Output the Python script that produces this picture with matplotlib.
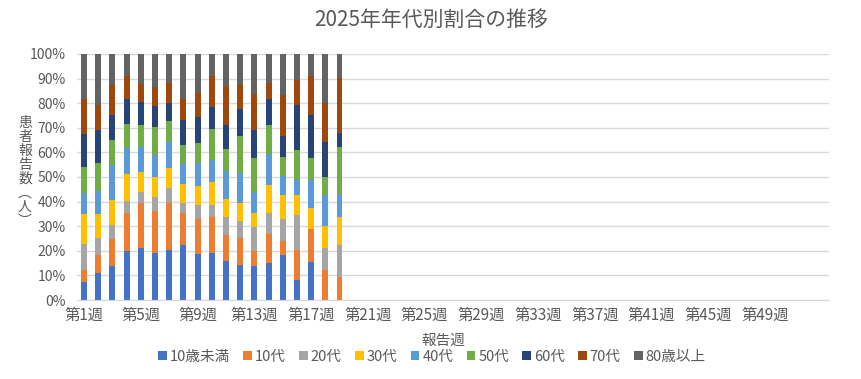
import matplotlib
matplotlib.use("Agg")
import matplotlib.pyplot as plt
import numpy as np

plt.rcParams['font.family'] = ['Noto Sans CJK JP', 'DejaVu Sans']

# weeks in the year (categories) and weeks with data
weeks = ["第%d週" % i for i in range(1, 54)]
groups = ["10歳未満", "10代", "20代", "30代", "40代", "50代", "60代", "70代", "80歳以上"]
colors = ["#4472C4", "#ED7D31", "#A5A5A5", "#FFC000", "#5B9BD5",
          "#70AD47", "#264478", "#9E480E", "#636363"]

# cumulative share (%) at top of each group, weeks 1-19 (80歳以上 fills to 100)
cum = [
    [7.3, 12.2, 22.8, 35.0, 43.4, 54.1, 67.5, 81.6],
    [11.0, 18.3, 25.2, 35.0, 44.3, 55.7, 69.2, 79.3],
    [13.8, 24.8, 30.5, 40.7, 54.7, 65.0, 75.2, 87.4],
    [19.9, 35.4, 40.2, 51.2, 61.9, 71.5, 81.7, 91.2],
    [21.1, 39.4, 43.9, 52.0, 62.2, 71.1, 80.5, 87.9],
    [19.1, 36.2, 41.9, 50.0, 58.9, 70.3, 79.0, 86.7],
    [20.3, 39.4, 45.5, 53.7, 64.4, 72.8, 80.1, 88.2],
    [22.4, 35.4, 39.4, 47.2, 55.4, 63.0, 73.3, 81.8],
    [18.7, 32.9, 38.6, 46.5, 55.7, 63.8, 74.4, 84.1],
    [19.2, 33.7, 38.6, 48.1, 57.0, 69.5, 78.5, 91.2],
    [15.9, 26.4, 33.7, 41.1, 52.4, 61.4, 71.1, 86.9],
    [14.2, 25.3, 32.1, 39.4, 51.6, 66.7, 77.6, 87.4],
    [13.8, 19.9, 29.7, 35.4, 44.0, 57.9, 69.2, 83.9],
    [15.0, 27.0, 35.4, 46.7, 59.5, 71.1, 81.7, 88.2],
    [18.3, 24.0, 32.9, 42.7, 50.5, 58.1, 66.7, 83.3],
    [8.1, 20.3, 34.6, 42.7, 48.8, 61.0, 79.3, 89.4],
    [15.4, 28.9, 28.9, 37.4, 48.8, 57.7, 75.2, 91.1],
    [0.0, 12.2, 21.1, 30.1, 42.7, 50.0, 64.2, 80.1],
    [0.0, 9.5, 22.4, 33.7, 43.1, 62.2, 67.9, 90.2],
]
cum = np.array([row + [100.0] for row in cum])
shares = np.diff(np.hstack([np.zeros((len(cum), 1)), cum]), axis=1) / 100

fig = plt.figure(figsize=(8.62, 3.79), dpi=100)
ax = fig.add_axes([77 / 862, 1 - 300 / 379, 752 / 862, 246 / 379])

x = np.arange(len(weeks))
xd = x[:len(shares)]
bottom = np.zeros(len(shares))
for j, g in enumerate(groups):
    ax.bar(xd, shares[:, j], 0.42, bottom=bottom, color=colors[j], label=g, zorder=2)
    bottom += shares[:, j]

ax.set_xlim(-0.5, len(weeks) - 0.5)
ax.set_ylim(0, 1)
ax.set_yticks(np.arange(0, 1.01, 0.1))
ax.set_yticklabels(["%d%%" % v for v in range(0, 101, 10)])
# labels every 4 weeks, last one (第53週) not shown
ax.set_xticks(x[:49:4])
ax.set_xticklabels(weeks[:49:4])
ax.yaxis.grid(True, color="#D9D9D9", lw=1, zorder=0)
for s in ["top", "right", "left"]:
    ax.spines[s].set_visible(False)
ax.spines["bottom"].set_color("#D9D9D9")
ax.tick_params(length=0, labelsize=10, colors="#595959")
ax.tick_params(axis="x", labelsize=11, pad=5)
ax.tick_params(axis="y", pad=8)

fig.text(0.5, 1 - 20 / 379, "2025年年代別割合の推移", ha="center", va="center",
         fontsize=15, color="#595959")
fig.text(443 / 862, 1 - 341 / 379, "報告週", ha="center", va="center",
         fontsize=10.5, color="#595959")
fig.text(25 / 862, 1 - 172 / 379, "\n".join("患者報告数︵人︶"), ha="center",
         va="center", fontsize=10, color="#595959", linespacing=1.0)

ax.legend(loc="center", bbox_to_anchor=(432 / 862, 1 - 357 / 379),
          bbox_transform=fig.transFigure, ncol=9, frameon=False, fontsize=10.5,
          handlelength=0.6, handleheight=0.6, handletextpad=0.2, columnspacing=0.9,
          labelcolor="#595959")

fig.savefig("out.png", dpi=100)
